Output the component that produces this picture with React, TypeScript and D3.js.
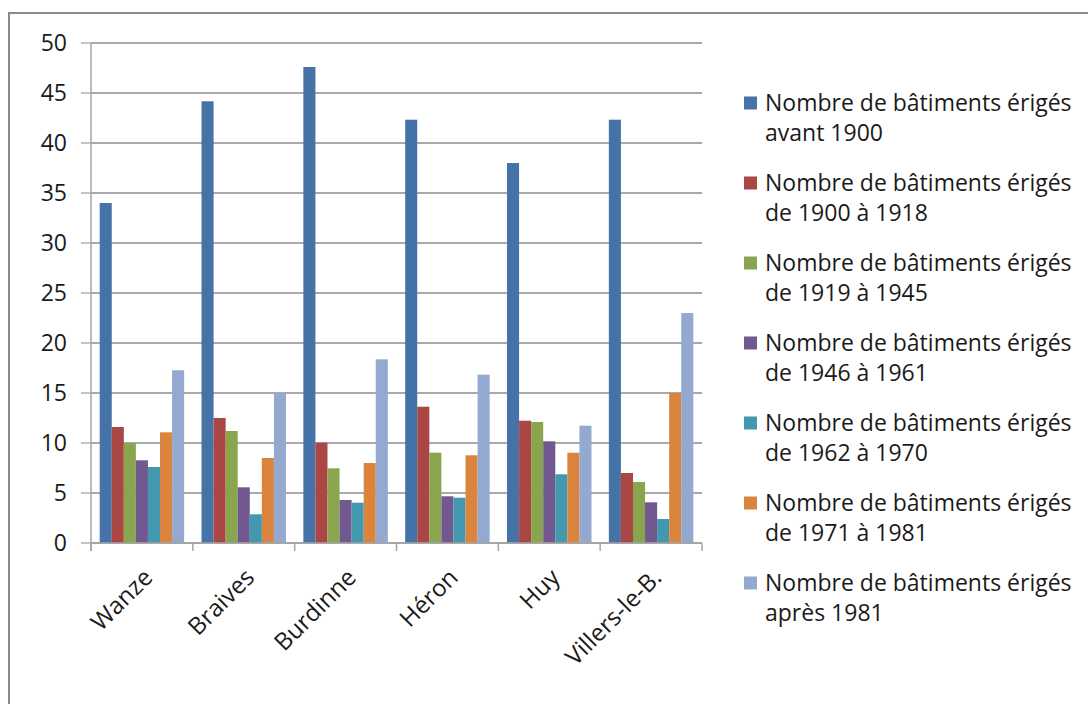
import React from "react";
import * as d3 from "d3";

const categories = ["Wanze", "Braives", "Burdinne", "Héron", "Huy", "Villers-le-B."];

const seriesNames = [
  "Nombre de bâtiments érigés avant 1900",
  "Nombre de bâtiments érigés de 1900 à 1918",
  "Nombre de bâtiments érigés de 1919 à 1945",
  "Nombre de bâtiments érigés de 1946 à 1961",
  "Nombre de bâtiments érigés de 1962 à 1970",
  "Nombre de bâtiments érigés de 1971 à 1981",
  "Nombre de bâtiments érigés après 1981",
];

const legendLine1 = "Nombre de bâtiments érigés";
const legendLine2 = ["avant 1900", "de 1900 à 1918", "de 1919 à 1945", "de 1946 à 1961", "de 1962 à 1970", "de 1971 à 1981", "après 1981"];

const avant1900 = [34.0, 44.17, 47.6, 42.33, 38.0, 42.33];
const de1900a1918 = [11.6, 12.5, 10.03, 13.63, 12.23, 7.0];
const de1919a1945 = [10.0, 11.2, 7.47, 9.03, 12.1, 6.1];
const de1946a1961 = [8.27, 5.57, 4.3, 4.67, 10.17, 4.07];
const de1962a1970 = [7.6, 2.87, 4.03, 4.53, 6.87, 2.4];
const de1971a1981 = [11.07, 8.5, 8.0, 8.77, 9.03, 15.0];
const apres1981 = [17.27, 15.0, 18.37, 16.83, 11.73, 23.0];

const yTicks = [0, 5, 10, 15, 20, 25, 30, 35, 40, 45, 50];

const colors = ["#4572A7", "#AA4643", "#89A54E", "#71588F", "#4198AF", "#DB843D", "#93A9CF"];

const seriesValues = [avant1900, de1900a1918, de1919a1945, de1946a1961, de1962a1970, de1971a1981, apres1981];

const W = 1088;
const H = 704;
const plotLeft = 91;
const plotRight = 702;
const plotTop = 43;
const plotBottom = 543;
const font = "'Open Sans', sans-serif";

export default function App() {
  const x0 = d3.scaleBand<string>().domain(categories).range([plotLeft, plotRight]).padding(0);
  const x1 = d3
    .scaleBand<number>()
    .domain(d3.range(seriesValues.length))
    .range([0, x0.bandwidth()])
    .paddingInner(0)
    .paddingOuter(0.72);
  const y = d3.scaleLinear().domain([0, 50]).range([plotBottom, plotTop]);

  const boundaries = d3.range(categories.length + 1).map((i) => plotLeft + i * x0.step());

  return (
    <svg
      width={W}
      height={H}
      style={{ position: "absolute", left: 0, top: 0, background: "#fff" }}
      fontFamily={font}
    >
      <rect x={0} y={0} width={W} height={H} fill="#fff" />
      {/* chart frame */}
      <path d={`M9,${H + 5} V13 H${W + 5}`} fill="none" stroke="#8a8a8a" strokeWidth={2} />

      {/* gridlines */}
      {yTicks.map((t) => (
        <line key={"g" + t} x1={plotLeft} x2={plotRight} y1={y(t)} y2={y(t)} stroke="#8c8c8c" strokeWidth={1.3} />
      ))}
      {/* y tick marks */}
      {yTicks.map((t) => (
        <line key={"t" + t} x1={81} x2={plotLeft} y1={y(t)} y2={y(t)} stroke="#a6a6a6" strokeWidth={1.3} />
      ))}
      {/* y axis */}
      <line x1={plotLeft} x2={plotLeft} y1={plotTop} y2={plotBottom + 8} stroke="#a6a6a6" strokeWidth={1.5} />
      {/* y labels */}
      {yTicks.map((t) => (
        <text key={"l" + t} x={67} y={y(t)} dy="0.36em" textAnchor="end" fontSize={23} fill="#1a1a1a">
          {t}
        </text>
      ))}

      {/* bars */}
      {categories.map((c, ci) => (
        <g key={c} transform={`translate(${x0(c)},0)`}>
          {seriesValues.map((vals, si) => (
            <rect
              key={si}
              x={x1(si)}
              y={y(vals[ci])}
              width={x1.bandwidth()}
              height={plotBottom - y(vals[ci])}
              fill={colors[si]}
            />
          ))}
        </g>
      ))}

      {/* x axis */}
      <line x1={plotLeft} x2={plotRight} y1={plotBottom} y2={plotBottom} stroke="#a6a6a6" strokeWidth={1.5} />
      {boundaries.map((b, i) => (
        <line key={"b" + i} x1={b} x2={b} y1={plotBottom} y2={plotBottom + 8} stroke="#a6a6a6" strokeWidth={1.5} />
      ))}
      {categories.map((c) => {
        const cx = (x0(c) as number) + x0.bandwidth() / 2;
        return (
          <text
            key={"c" + c}
            transform={`translate(${cx + 12},${plotBottom + 36}) rotate(-45)`}
            textAnchor="end"
            fontSize={24}
            fill="#1a1a1a"
          >
            {c}
          </text>
        );
      })}

      {/* legend */}
      {seriesNames.map((name, i) => {
        const cy = 103 + i * 80;
        return (
          <g key={name}>
            <rect x={744} y={cy - 6.5} width={13} height={13} fill={colors[i]} />
            <text x={765} y={cy} dy="0.36em" fontSize={23} fill="#1a1a1a">
              {legendLine1}
            </text>
            <text x={765} y={cy + 30} dy="0.36em" fontSize={23} fill="#1a1a1a">
              {legendLine2[i]}
            </text>
          </g>
        );
      })}
    </svg>
  );
}
